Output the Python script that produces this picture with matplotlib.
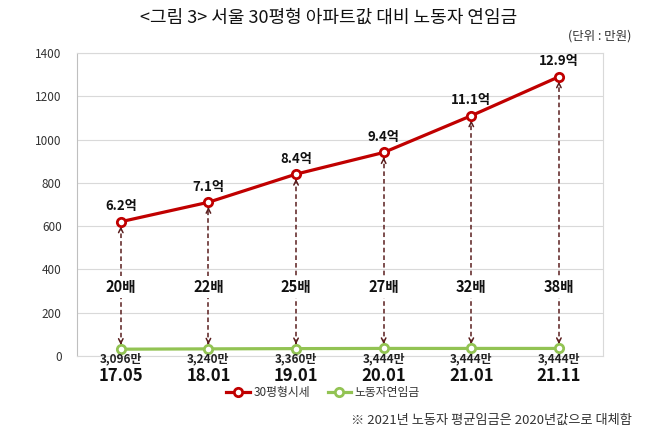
import matplotlib
matplotlib.use("Agg")
import matplotlib.pyplot as plt

plt.rcParams['font.family'] = ['Noto Sans CJK KR', 'DejaVu Sans']

periods = ["17.05", "18.01", "19.01", "20.01", "21.01", "21.11"]
apt_price = [620, 710, 840, 940, 1110, 1290]          # 30평형 시세 (백만원)
apt_labels = ["6.2억", "7.1억", "8.4억", "9.4억", "11.1억", "12.9억"]
wage = [30.96, 32.40, 33.60, 34.44, 34.44, 34.44]     # 노동자 연임금 (백만원)
wage_labels = ["3,096만", "3,240만", "3,360만", "3,444만", "3,444만", "3,444만"]
ratio_labels = ["20배", "22배", "25배", "27배", "32배", "38배"]

red = "#C00000"
green = "#92C353"
arrow_c = "#5A1E1E"

fig = plt.figure(figsize=(6.58, 4.34), dpi=100)
ax = fig.add_axes([0.117, 0.180, 0.799, 0.698])

x = list(range(len(periods)))

ax.plot(x, apt_price, color=red, lw=2.3, marker="o", ms=6, mfc="white",
        mec=red, mew=2, label="30평형시세", zorder=4)
ax.plot(x, wage, color=green, lw=2.3, marker="o", ms=6, mfc="white",
        mec=green, mew=2, label="노동자연임금", zorder=4)

for i in x:
    top = apt_price[i] - 22
    bot = wage[i] + 20
    ax.plot([i, i], [bot, top], color=arrow_c, lw=1.1, ls=(0, (3, 2)), zorder=2)
    ax.annotate("", xy=(i, top), xytext=(i, top - 5),
                arrowprops=dict(arrowstyle="->", color=arrow_c, lw=1.1,
                                shrinkA=0, shrinkB=0, mutation_scale=8), zorder=3)
    ax.annotate("", xy=(i, bot), xytext=(i, bot + 5),
                arrowprops=dict(arrowstyle="->", color=arrow_c, lw=1.1,
                                shrinkA=0, shrinkB=0, mutation_scale=8), zorder=3)
    ax.text(i, 318, ratio_labels[i], ha="center", va="center", fontsize=10.5,
            fontweight="bold", color="#111111",
            bbox=dict(facecolor="white", edgecolor="none", pad=2), zorder=5)
    ax.annotate(apt_labels[i], xy=(i, apt_price[i]), xytext=(0, 6),
                textcoords="offset points", ha="center", va="bottom",
                fontsize=9.5, fontweight="bold", color="#111111")
    ax.annotate(wage_labels[i], xy=(i, 0), xytext=(0, -2),
                textcoords="offset points", ha="center", va="center",
                fontsize=8.5, fontweight="bold", color="#222222", zorder=6)

ax.set_xlim(-0.5, len(periods) - 0.5)
ax.set_ylim(0, 1400)
ax.set_yticks(range(0, 1401, 200))
ax.tick_params(axis="y", length=0, labelsize=8.5, colors="#333333", pad=11)
ax.set_xticks(x)
ax.set_xticklabels(periods, fontsize=12, fontweight="bold", color="#111111")
ax.tick_params(axis="x", length=0, pad=8)
ax.grid(axis="y", color="#D9D9D9", lw=0.8)
ax.set_axisbelow(True)
for s in ["top", "right"]:
    ax.spines[s].set_color("#D9D9D9")
ax.spines["left"].set_color("#BFBFBF")
ax.spines["bottom"].set_color("#D9D9D9")

ax.legend(loc="center", bbox_to_anchor=(0.468, -0.122), ncol=2,
          frameon=False, fontsize=8.5, handlelength=2, handletextpad=0.3,
          columnspacing=1.5, labelcolor="#333333")

fig.text(0.5, 0.958, "<그림 3> 서울 30평형 아파트값 대비 노동자 연임금",
         ha="center", va="center", fontsize=13, color="#111111")
fig.text(0.96, 0.918, "(단위 : 만원)", ha="right", va="center",
         fontsize=9, color="#333333")
fig.text(0.96, 0.032, "※ 2021년 노동자 평균임금은 2020년값으로 대체함",
         ha="right", va="center", fontsize=9.5, color="#333333")

fig.savefig("out.png", dpi=100)
